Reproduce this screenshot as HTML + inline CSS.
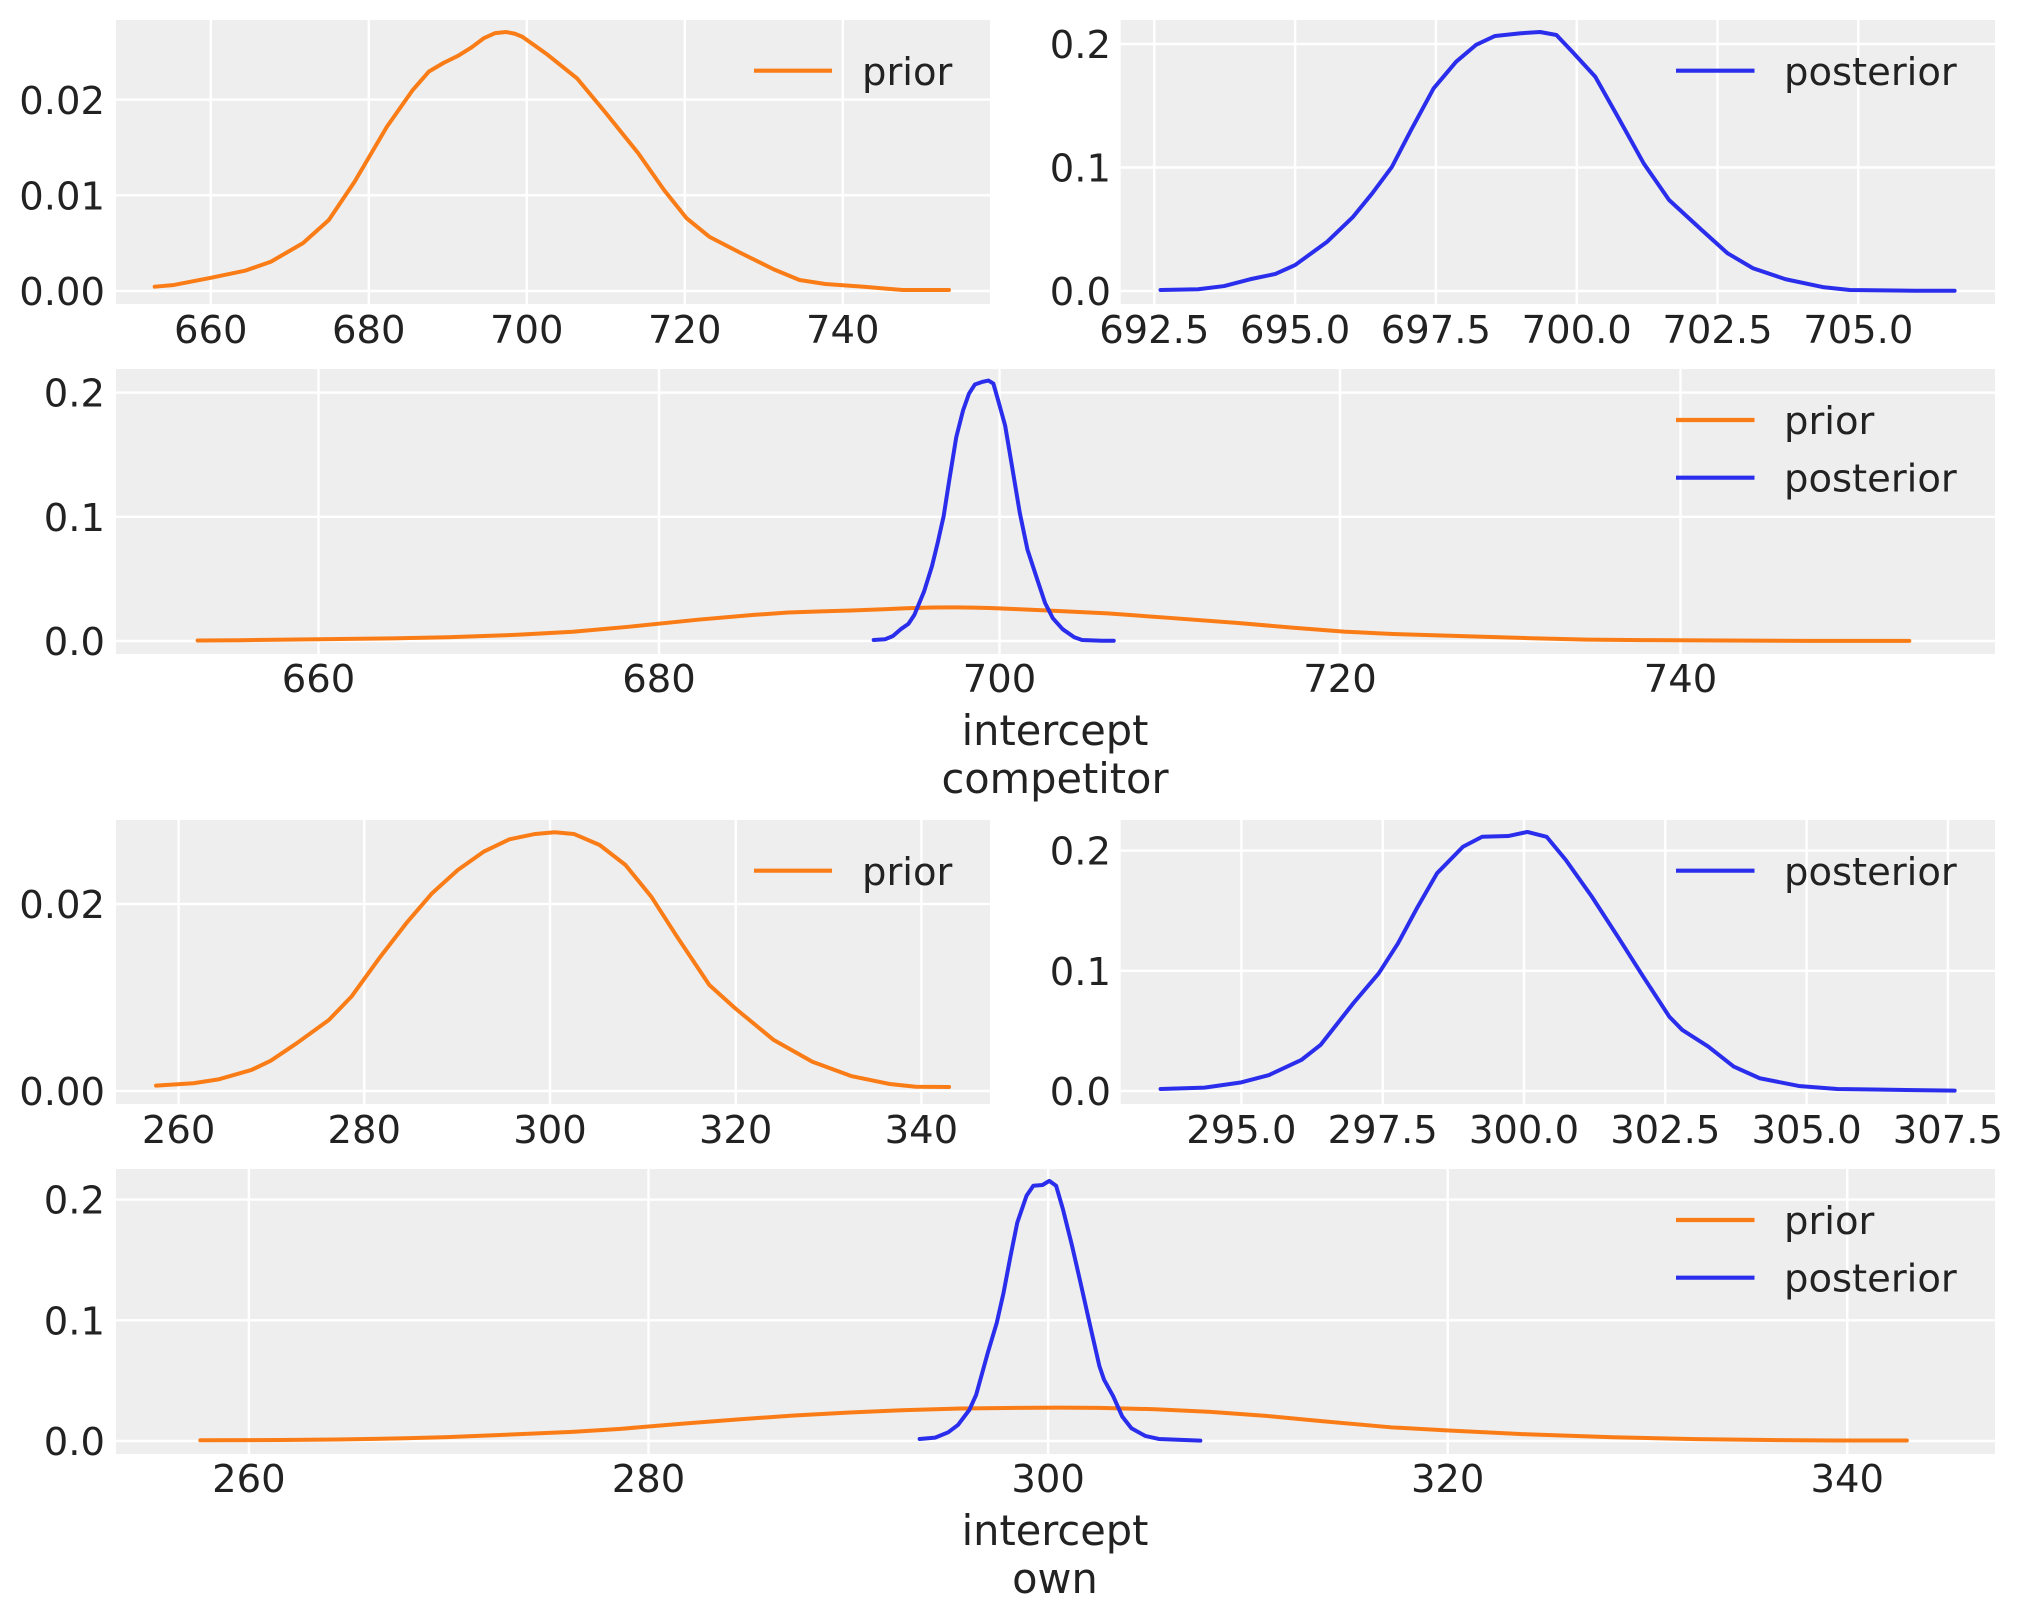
<!DOCTYPE html>
<html><head><meta charset="utf-8"><style>
html,body{margin:0;padding:0;background:#fff;}
svg{display:block;}
text{font-family:"DejaVu Sans","Liberation Sans",sans-serif;font-size:38.5px;fill:#222;}
text.xl{font-size:41.5px;}
.g{stroke:#fff;stroke-width:2.4;}
.o{fill:none;stroke:#fa7c17;stroke-width:4;stroke-linejoin:round;stroke-linecap:round;vector-effect:non-scaling-stroke;}
.b{fill:none;stroke:#2a2eec;stroke-width:4;stroke-linejoin:round;stroke-linecap:round;vector-effect:non-scaling-stroke;}
.lo{stroke:#fa7c17;stroke-width:4.2;}
.lb{stroke:#2a2eec;stroke-width:4.2;}
.e{text-anchor:end;}
.m{text-anchor:middle;}
</style></head><body>
<svg width="2023" height="1623" viewBox="0 0 2023 1623" xmlns="http://www.w3.org/2000/svg">
<rect width="2023" height="1623" fill="#fff"/>

<!-- ===== Axes 1: prior competitor ===== -->
<rect x="116" y="20" width="874" height="284" fill="#eeeeee"/>
<g class="g">
<line x1="210.8" y1="20" x2="210.8" y2="304"/><line x1="368.8" y1="20" x2="368.8" y2="304"/><line x1="526.8" y1="20" x2="526.8" y2="304"/><line x1="684.8" y1="20" x2="684.8" y2="304"/><line x1="842.8" y1="20" x2="842.8" y2="304"/>
<line x1="116" y1="291" x2="990" y2="291"/><line x1="116" y1="195.3" x2="990" y2="195.3"/><line x1="116" y1="99.6" x2="990" y2="99.6"/>
</g>
<polyline class="o" transform="matrix(7.9,0,0,-9570,-5003.2,291)" points="652.9,0.00045 655.34,0.00063 660,0.00138 664.33,0.00212 667.6,0.00306 671.67,0.0050 674.94,0.00742 678.2,0.01142 682.29,0.01716 685.56,0.021 687.59,0.02292 689.5,0.02385 691.27,0.02456 693,0.02545 694.53,0.0264 696,0.02695 697.39,0.02706 698.5,0.02688 699.43,0.02657 701,0.02565 702.68,0.02466 706.35,0.02223 710.03,0.01857 714.11,0.01439 717.37,0.01055 720.24,0.00759 723.1,0.00567 727.18,0.00393 731.27,0.00226 734.52,0.00115 737.78,0.00073 742.68,0.00045 747.58,0.0001 753.44,0.0001"/>
<text class="e" x="105" y="305">0.00</text><text class="e" x="105" y="209.5">0.01</text><text class="e" x="105" y="113.8">0.02</text>
<text class="m" x="210.8" y="343">660</text><text class="m" x="368.8" y="343">680</text><text class="m" x="526.8" y="343">700</text><text class="m" x="684.8" y="343">720</text><text class="m" x="842.8" y="343">740</text>
<line class="lo" x1="754" y1="70.7" x2="832" y2="70.7"/><text x="862" y="85">prior</text>

<!-- ===== Axes 2: posterior competitor ===== -->
<rect x="1120.7" y="20" width="874.3" height="284" fill="#eeeeee"/>
<g class="g">
<line x1="1154.3" y1="20" x2="1154.3" y2="304"/><line x1="1295.1" y1="20" x2="1295.1" y2="304"/><line x1="1435.9" y1="20" x2="1435.9" y2="304"/><line x1="1576.7" y1="20" x2="1576.7" y2="304"/><line x1="1717.5" y1="20" x2="1717.5" y2="304"/><line x1="1858.3" y1="20" x2="1858.3" y2="304"/>
<line x1="1120.7" y1="291" x2="1995" y2="291"/><line x1="1120.7" y1="167.5" x2="1995" y2="167.5"/><line x1="1120.7" y1="44" x2="1995" y2="44"/>
</g>
<polyline class="b" transform="matrix(56.32,0,0,-1235,-37847.3,291)" points="692.61,0.0008 693.28,0.0014 693.74,0.004 694.2,0.0095 694.65,0.0138 695.0,0.021 695.57,0.0399 696.03,0.0601 696.37,0.0791 696.72,0.1006 697.06,0.1304 697.46,0.1641 697.86,0.1857 698.21,0.1992 698.55,0.2065 699.01,0.2087 699.35,0.2097 699.64,0.2073 699.92,0.1938 700.33,0.1735 700.73,0.1411 701.19,0.1033 701.64,0.0737 702.22,0.0494 702.68,0.0305 703.13,0.0184 703.71,0.0095 704.39,0.003 704.85,0.0008 706.0,0.0002 706.71,0.0002"/>
<text class="e" x="1111" y="305">0.0</text><text class="e" x="1111" y="181.5">0.1</text><text class="e" x="1111" y="58">0.2</text>
<text class="m" x="1154.3" y="343">692.5</text><text class="m" x="1295.1" y="343">695.0</text><text class="m" x="1435.9" y="343">697.5</text><text class="m" x="1576.7" y="343">700.0</text><text class="m" x="1717.5" y="343">702.5</text><text class="m" x="1858.3" y="343">705.0</text>
<line class="lb" x1="1676" y1="70.7" x2="1754.5" y2="70.7"/><text x="1784" y="85">posterior</text>

<!-- ===== Axes 3: combined competitor ===== -->
<rect x="116" y="369" width="1879" height="285" fill="#eeeeee"/>
<g class="g">
<line x1="318.5" y1="369" x2="318.5" y2="654"/><line x1="659" y1="369" x2="659" y2="654"/><line x1="999.5" y1="369" x2="999.5" y2="654"/><line x1="1340" y1="369" x2="1340" y2="654"/><line x1="1680.5" y1="369" x2="1680.5" y2="654"/>
<line x1="116" y1="641" x2="1995" y2="641"/><line x1="116" y1="516.8" x2="1995" y2="516.8"/><line x1="116" y1="392.6" x2="1995" y2="392.6"/>
</g>
<polyline class="o" transform="matrix(17.025,0,0,-1242,-10918,641)" points="652.9,0.00045 655.34,0.00063 660,0.00138 664.33,0.00212 667.6,0.00306 671.67,0.0050 674.94,0.00742 678.2,0.01142 682.29,0.01716 685.56,0.021 687.59,0.02292 689.5,0.02385 691.27,0.02456 693,0.02545 694.53,0.0264 696,0.02695 697.39,0.02706 698.5,0.02688 699.43,0.02657 701,0.02565 702.68,0.02466 706.35,0.02223 710.03,0.01857 714.11,0.01439 717.37,0.01055 720.24,0.00759 723.1,0.00567 727.18,0.00393 731.27,0.00226 734.52,0.00115 737.78,0.00073 742.68,0.00045 747.58,0.0001 753.44,0.0001"/>
<polyline class="b" transform="matrix(17.025,0,0,-1242,-10918,641)" points="692.61,0.0008 693.28,0.0014 693.74,0.004 694.2,0.0095 694.65,0.0138 695.0,0.021 695.57,0.0399 696.03,0.0601 696.37,0.0791 696.72,0.1006 697.06,0.1304 697.46,0.1641 697.86,0.1857 698.21,0.1992 698.55,0.2065 699.01,0.2087 699.35,0.2097 699.64,0.2073 699.92,0.1938 700.33,0.1735 700.73,0.1411 701.19,0.1033 701.64,0.0737 702.22,0.0494 702.68,0.0305 703.13,0.0184 703.71,0.0095 704.39,0.003 704.85,0.0008 706.0,0.0002 706.71,0.0002"/>
<text class="e" x="105" y="655">0.0</text><text class="e" x="105" y="530.8">0.1</text><text class="e" x="105" y="406.6">0.2</text>
<text class="m" x="318.5" y="692">660</text><text class="m" x="659" y="692">680</text><text class="m" x="999.5" y="692">700</text><text class="m" x="1340" y="692">720</text><text class="m" x="1680.5" y="692">740</text>
<line class="lo" x1="1676" y1="420" x2="1754.5" y2="420"/><text x="1784" y="434">prior</text>
<line class="lb" x1="1676" y1="477.7" x2="1754.5" y2="477.7"/><text x="1784" y="491.7">posterior</text>
<text class="m xl" x="1055" y="745">intercept</text>
<text class="m xl" x="1055" y="793">competitor</text>

<!-- ===== Axes 5: prior own ===== -->
<rect x="116" y="820" width="874" height="284" fill="#eeeeee"/>
<g class="g">
<line x1="178.6" y1="820" x2="178.6" y2="1104"/><line x1="364.3" y1="820" x2="364.3" y2="1104"/><line x1="550" y1="820" x2="550" y2="1104"/><line x1="735.7" y1="820" x2="735.7" y2="1104"/><line x1="921.4" y1="820" x2="921.4" y2="1104"/>
<line x1="116" y1="1091" x2="990" y2="1091"/><line x1="116" y1="904" x2="990" y2="904"/>
</g>
<polyline class="o" transform="matrix(9.285,0,0,-9350,-2235.5,1091)" points="257.57,0.00057 261.59,0.00083 264.37,0.00126 267.85,0.00225 269.93,0.00324 272.71,0.0051 276.18,0.00759 278.61,0.01009 281.73,0.01436 284.51,0.01793 287.29,0.02114 290.07,0.02364 292.85,0.02559 295.63,0.02692 298.41,0.02749 300.49,0.02767 302.57,0.02749 305.35,0.02631 308.13,0.02417 310.91,0.02078 313.68,0.0165 317.16,0.01134 319.94,0.00885 324.1,0.00545 328.26,0.00313 332.43,0.0016 336.6,0.00075 339.38,0.00046 342.98,0.00043"/>
<text class="e" x="105" y="1105">0.00</text><text class="e" x="105" y="918">0.02</text>
<text class="m" x="178.6" y="1143">260</text><text class="m" x="364.3" y="1143">280</text><text class="m" x="550" y="1143">300</text><text class="m" x="735.7" y="1143">320</text><text class="m" x="921.4" y="1143">340</text>
<line class="lo" x1="754" y1="870.7" x2="832" y2="870.7"/><text x="862" y="885">prior</text>

<!-- ===== Axes 6: posterior own ===== -->
<rect x="1120.7" y="820" width="874.3" height="284" fill="#eeeeee"/>
<g class="g">
<line x1="1241.4" y1="820" x2="1241.4" y2="1104"/><line x1="1382.7" y1="820" x2="1382.7" y2="1104"/><line x1="1524" y1="820" x2="1524" y2="1104"/><line x1="1665.3" y1="820" x2="1665.3" y2="1104"/><line x1="1806.6" y1="820" x2="1806.6" y2="1104"/><line x1="1947.9" y1="820" x2="1947.9" y2="1104"/>
<line x1="1120.7" y1="1091" x2="1995" y2="1091"/><line x1="1120.7" y1="970.8" x2="1995" y2="970.8"/><line x1="1120.7" y1="850.6" x2="1995" y2="850.6"/>
</g>
<polyline class="b" transform="matrix(56.52,0,0,-1202,-15432,1091)" points="293.57,0.0017 294.35,0.0028 295.0,0.0072 295.49,0.0133 296.06,0.0258 296.4,0.0383 296.98,0.073 297.43,0.0979 297.77,0.1228 298.12,0.1533 298.46,0.1811 298.92,0.2032 299.26,0.2115 299.72,0.2121 300.06,0.2155 300.4,0.2115 300.74,0.1922 301.2,0.1617 301.66,0.1284 302.11,0.0951 302.57,0.0619 302.8,0.0508 303.26,0.037 303.71,0.0203 304.17,0.0106 304.86,0.0042 305.54,0.0017 306.34,0.0011 307.62,0.0003"/>
<text class="e" x="1111" y="1105">0.0</text><text class="e" x="1111" y="984.8">0.1</text><text class="e" x="1111" y="864.6">0.2</text>
<text class="m" x="1241.4" y="1143">295.0</text><text class="m" x="1382.7" y="1143">297.5</text><text class="m" x="1524" y="1143">300.0</text><text class="m" x="1665.3" y="1143">302.5</text><text class="m" x="1806.6" y="1143">305.0</text><text class="m" x="1947.9" y="1143">307.5</text>
<line class="lb" x1="1676" y1="870.7" x2="1754.5" y2="870.7"/><text x="1784" y="885">posterior</text>

<!-- ===== Axes 7: combined own ===== -->
<rect x="116" y="1169" width="1879" height="285" fill="#eeeeee"/>
<g class="g">
<line x1="248.9" y1="1169" x2="248.9" y2="1454"/><line x1="648.5" y1="1169" x2="648.5" y2="1454"/><line x1="1048.1" y1="1169" x2="1048.1" y2="1454"/><line x1="1447.7" y1="1169" x2="1447.7" y2="1454"/><line x1="1847.3" y1="1169" x2="1847.3" y2="1454"/>
<line x1="116" y1="1441" x2="1995" y2="1441"/><line x1="116" y1="1320.3" x2="1995" y2="1320.3"/><line x1="116" y1="1199.6" x2="1995" y2="1199.6"/>
</g>
<polyline class="o" transform="matrix(19.98,0,0,-1207,-4945.9,1441)" points="257.57,0.00057 261.59,0.00083 264.37,0.00126 267.85,0.00225 269.93,0.00324 272.71,0.0051 276.18,0.00759 278.61,0.01009 281.73,0.01436 284.51,0.01793 287.29,0.02114 290.07,0.02364 292.85,0.02559 295.63,0.02692 298.41,0.02749 300.49,0.02767 302.57,0.02749 305.35,0.02631 308.13,0.02417 310.91,0.02078 313.68,0.0165 317.16,0.01134 319.94,0.00885 324.1,0.00545 328.26,0.00313 332.43,0.0016 336.6,0.00075 339.38,0.00046 342.98,0.00043"/>
<polyline class="b" transform="matrix(19.98,0,0,-1207,-4945.9,1441)" points="293.57,0.0017 294.35,0.0028 295.0,0.0072 295.49,0.0133 296.06,0.0258 296.4,0.0383 296.98,0.073 297.43,0.0979 297.77,0.1228 298.12,0.1533 298.46,0.1811 298.92,0.2032 299.26,0.2115 299.72,0.2121 300.06,0.2155 300.4,0.2115 300.74,0.1922 301.2,0.1617 301.66,0.1284 302.11,0.0951 302.57,0.0619 302.8,0.0508 303.26,0.037 303.71,0.0203 304.17,0.0106 304.86,0.0042 305.54,0.0017 306.34,0.0011 307.62,0.0003"/>
<text class="e" x="105" y="1455">0.0</text><text class="e" x="105" y="1334.3">0.1</text><text class="e" x="105" y="1213.6">0.2</text>
<text class="m" x="248.9" y="1492">260</text><text class="m" x="648.5" y="1492">280</text><text class="m" x="1048.1" y="1492">300</text><text class="m" x="1447.7" y="1492">320</text><text class="m" x="1847.3" y="1492">340</text>
<line class="lo" x1="1676" y1="1220" x2="1754.5" y2="1220"/><text x="1784" y="1234">prior</text>
<line class="lb" x1="1676" y1="1277.7" x2="1754.5" y2="1277.7"/><text x="1784" y="1291.7">posterior</text>
<text class="m xl" x="1055" y="1545">intercept</text>
<text class="m xl" x="1055" y="1593">own</text>
</svg>
</body></html>
